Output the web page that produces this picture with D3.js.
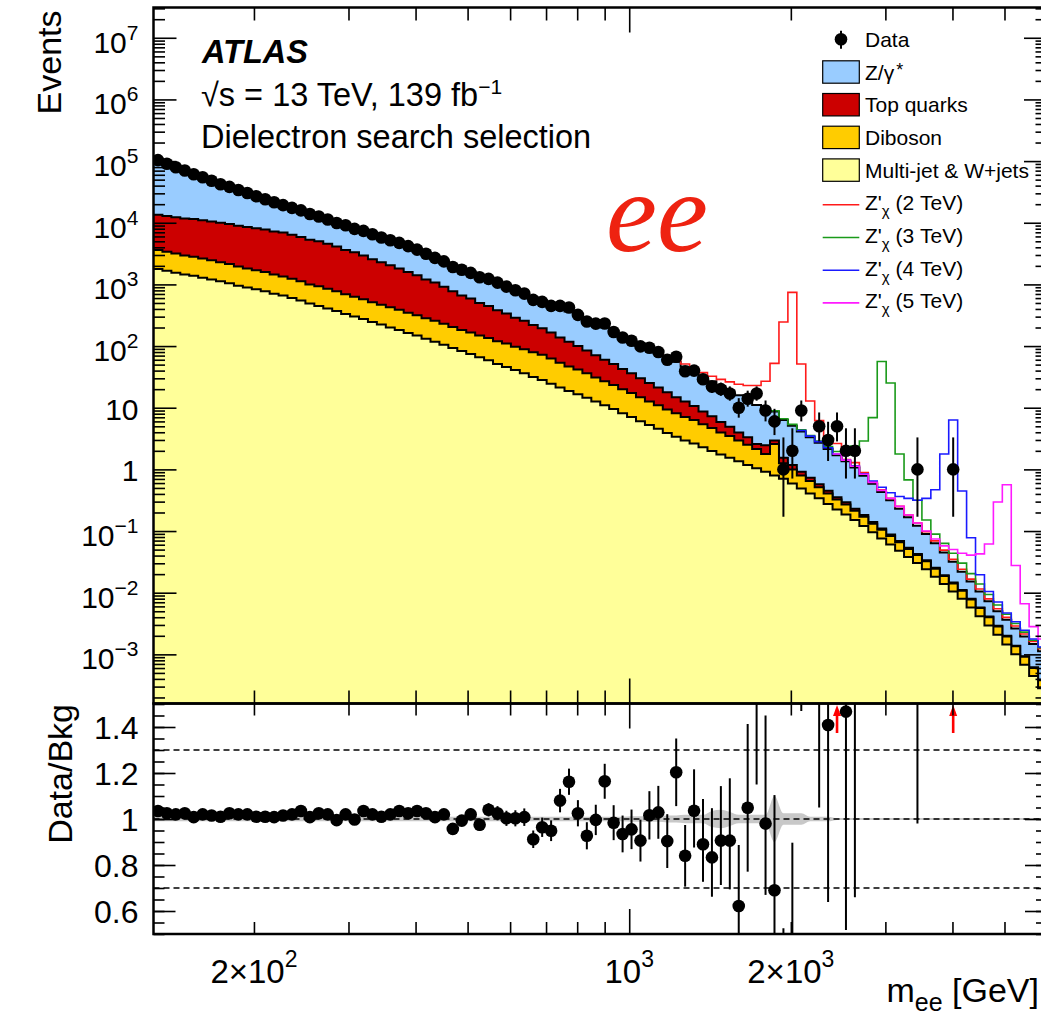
<!DOCTYPE html>
<html><head>
<meta charset="utf-8">
<title>Dielectron mass spectrum</title>
<script src="https://cdn.jsdelivr.net/npm/d3@7"></script>
<style>
body { margin: 0px; background: #fff; }
text { font-family: "Liberation Sans", Arial, Helvetica, sans-serif; fill: #000; }
</style>
</head>
<body>
<script>
// binning of the histogram (log-uniform in m_ee)
var nBins = 100, mLow = 130, mHigh = 6000;

// stacked histogram tops, log10(events) per bin
var zTopLog = [5.000,4.946,4.891,4.837,4.783,4.729,4.674,4.620,4.571,4.523,
  4.474,4.426,4.377,4.329,4.280,4.233,4.186,4.139,4.091,4.044,
  3.997,3.950,3.901,3.853,3.804,3.756,3.707,3.659,3.610,3.549,
  3.487,3.426,3.364,3.303,3.241,3.180,3.127,3.073,3.020,2.963,
  2.905,2.848,2.790,2.733,2.675,2.618,2.560,2.495,2.430,2.365,
  2.300,2.235,2.170,2.105,2.040,1.966,1.893,1.819,1.745,1.666,
  1.588,1.509,1.430,1.354,1.278,1.201,1.125,1.044,0.963,0.938,
  0.800,0.708,0.615,0.523,0.430,0.330,0.230,0.130,0.030,-0.103,
  -0.235,-0.368,-0.500,-0.638,-0.775,-0.913,-1.050,-1.200,-1.350,-1.500,
  -1.660,-1.820,-1.980,-2.140,-2.300,-2.440,-2.580,-2.710,-2.830,-2.950];
var topTopLog = [4.13,4.11,4.09,4.07,4.06,4.04,4.02,4.00,3.98,3.95,
  3.93,3.91,3.89,3.86,3.84,3.805,3.77,3.725,3.70,3.66,
  3.615,3.56,3.52,3.47,3.41,3.36,3.31,3.26,3.20,3.15,
  3.08,3.03,2.96,2.89,2.82,2.77,2.70,2.65,2.58,2.53,
  2.46,2.41,2.34,2.29,2.22,2.14,2.07,2.00,1.93,1.85,
  1.78,1.71,1.63,1.56,1.48,1.40,1.33,1.25,1.17,1.10,
  1.03,0.94,0.86,0.77,0.69,0.60,0.52,0.41,0.39,0.47,
  0.19,0.07,-0.04,-0.135,-0.24,-0.345,-0.45,-0.534,-0.637,-0.74,
  -0.855,-0.957,-1.058,-1.16,-1.272,-1.373,-1.475,-1.595,-1.716,-1.836,
  -1.957,-2.097,-2.238,-2.388,-2.538,-2.699,-2.859,-3.03,-3.21,-3.41];
var dibosonTopLog = [3.56,3.53,3.50,3.47,3.45,3.42,3.39,3.36,3.33,3.29,
  3.26,3.23,3.20,3.16,3.13,3.09,3.05,3.00,2.97,2.93,
  2.89,2.84,2.80,2.76,2.71,2.67,2.63,2.59,2.54,2.50,
  2.45,2.41,2.36,2.31,2.26,2.22,2.17,2.13,2.08,2.04,
  1.99,1.95,1.90,1.86,1.80,1.73,1.67,1.62,1.56,1.49,
  1.43,1.37,1.30,1.24,1.17,1.10,1.04,0.97,0.91,0.85,
  0.80,0.73,0.67,0.60,0.54,0.47,0.40,0.33,0.25,0.41,
  0.10,0.00,-0.10,-0.19,-0.29,-0.39,-0.49,-0.57,-0.67,-0.77,
  -0.88,-0.98,-1.08,-1.18,-1.29,-1.39,-1.49,-1.61,-1.73,-1.85,
  -1.97,-2.11,-2.25,-2.40,-2.55,-2.71,-2.87,-3.04,-3.22,-3.42];
var multijetTopLog = [3.25,3.22,3.19,3.16,3.14,3.11,3.08,3.05,3.02,2.98,
  2.95,2.92,2.89,2.85,2.82,2.78,2.74,2.69,2.65,2.61,
  2.57,2.52,2.48,2.44,2.39,2.35,2.30,2.26,2.21,2.17,
  2.12,2.07,2.02,1.97,1.92,1.87,1.82,1.77,1.71,1.66,
  1.61,1.56,1.50,1.45,1.39,1.33,1.27,1.22,1.16,1.10,
  1.04,0.98,0.91,0.85,0.78,0.72,0.66,0.59,0.53,0.47,
  0.42,0.36,0.30,0.24,0.19,0.13,0.07,0.02,-0.04,-0.10,
  -0.15,-0.23,-0.31,-0.39,-0.47,-0.56,-0.65,-0.73,-0.82,-0.92,
  -1.02,-1.12,-1.22,-1.32,-1.42,-1.52,-1.62,-1.74,-1.86,-1.98,
  -2.10,-2.24,-2.38,-2.53,-2.68,-2.84,-3.00,-3.17,-3.35,-3.55];

// Z' signals on top of the background, log10(events), starting at bin index
var z2Start = 56, z2Log = [1.90,1.84,1.78,1.71,1.64,1.57,1.51,1.46,1.42,1.38,1.36,1.36,1.43,1.72,2.39,2.87,1.71,1.11,0.79,0.50,0.42,0.16,0.11,
  -0.05,-0.20,-0.33,-0.47,-0.60,-0.74,-0.87,-1.01,-1.16,-1.31,-1.46,-1.62,-1.78,-1.94,-2.10,-2.26,-2.40,-2.54,-2.67,-2.79,-2.91];
var z3Start = 68, z3Log = [0.97,0.95,0.82,0.73,0.64,0.55,0.46,0.37,0.29,0.24,0.38,0.46,0.84,1.75,1.40,0.25,-0.17,-0.50,-0.82,-1.05,
  -1.20,-1.36,-1.52,-1.69,-1.86,-2.03,-2.20,-2.35,-2.50,-2.64,-2.77,-2.89];
var z4Start = 72, z4Log = [0.63,0.54,0.45,0.35,0.25,0.15,0.06,-0.07,-0.19,-0.29,-0.38,-0.44,-0.47,-0.50,-0.47,-0.33,0.25,0.80,-0.35,-1.11,
  -1.71,-1.98,-2.15,-2.33,-2.47,-2.61,-2.75,-2.88];
var z5Start = 76, z5Log = [0.25,0.15,0.05,-0.08,-0.21,-0.34,-0.47,-0.60,-0.74,-0.87,-1.00,-1.13,-1.24,-1.30,-1.36,-1.39,-1.37,-1.21,-0.53,-0.25,
  -1.56,-2.18,-2.55,-2.75];

// data: events per bin (0 = empty)
var dataCounts = [103500,90500,79400,70400,61200,54700,47900,42100,38200,34000,
  30400,26900,24100,21500,19300,17400,15900,13900,12600,11300,
  9880,9090,7950,7380,6500,5760,5200,4720,4180,3660,
  3150,2690,2360,1920,1730,1540,1310,1230,1070,921,
  806,710,562,521,449,448,422,320,250,231,
  232,169,138,122,99,94,80,60,67,39,
  40,29,22,20,17,10,14,17,9,6,
  1,2,9,0,5,3,5,2,2,0,
  0,0,0,0,0,1,0,0,0,1,
  0,0,0,0,0,0,0,0,0,0];
// error bar ends for the sparse bins, from bin 55 on
var dataTailStart = 55;
var dataTailLo = [84.5,71.1,52.3,58.9,32.8,33.7,23.6,17.4,15.6,13.0,6.9,10.4,13.0,6.0,3.6,0.17,0.71,6.0,null,2.84,
  1.37,2.84,0.71,0.71,null,null,null,null,null,null,0.17,null,null,null,0.17];
var dataTailHi = [104.2,89.9,68.7,75.2,45.3,46.4,35.4,27.6,25.5,22.2,14.3,18.9,22.2,13.1,9.6,3.30,4.64,13.1,null,8.38,
  5.92,8.38,4.64,4.64,null,null,null,null,null,null,3.30,null,null,null,3.30];

// Data/Bkg ratio and its errors
var ratioVal = [1.035,1.025,1.02,1.025,1.008,1.02,1.015,1.01,1.025,1.02,
  1.02,1.01,1.01,1.008,1.015,1.02,1.035,1.008,1.025,1.02,
  0.995,1.02,0.998,1.035,1.02,1.01,1.02,1.035,1.025,1.035,
  1.025,1.008,1.02,0.957,0.993,1.02,0.975,1.04,1.025,1.003,
  1.003,1.008,0.912,0.964,0.949,1.08,1.162,1.025,0.927,0.996,
  1.164,0.984,0.935,0.955,0.906,1.016,1.029,0.904,1.203,0.84,
  1.036,0.89,0.833,0.906,0.906,0.622,1.049,1.54,0.98,0.69,
  0.159,0.392,2.18,null,1.86,1.409,2.94,1.467,1.87,null,
  null,null,null,null,null,8.2,null,null,null,31.6,
  null,null,null,null,null,null,null,null,null,null];
var ratioErrDn = [.003,.003,.004,.004,.004,.004,.005,.005,.005,.005,
  .006,.006,.006,.007,.007,.008,.008,.009,.009,.009,
  .010,.011,.011,.012,.012,.013,.014,.015,.016,.017,
  .018,.019,.021,.022,.024,.026,.027,.029,.031,.033,
  .035,.038,.038,.042,.045,.051,.057,.057,.059,.066,
  .076,.076,.080,.086,.091,.105,.115,.117,.147,.134,
  .160,.163,.171,.193,.212,.190,.278,.390,.310,.270,
  .130,.250,.710,null,.810,.770,1.27,.950,1.21,null,
  null,null,null,null,null,7.22,null,null,null,26.1,
  null,null,null,null,null,null,null,null,null,null];
var ratioErrUp = [.003,.003,.004,.004,.004,.004,.005,.005,.005,.005,
  .006,.006,.006,.007,.007,.008,.008,.009,.009,.009,
  .010,.011,.011,.012,.012,.013,.014,.015,.016,.017,
  .018,.019,.021,.022,.024,.026,.027,.029,.031,.033,
  .035,.038,.038,.042,.045,.051,.057,.057,.059,.066,
  .076,.076,.080,.086,.091,.105,.115,.117,.147,.134,
  .180,.197,.214,.237,.271,.265,.364,.450,.470,.414,
  .366,.505,.990,null,1.25,1.35,2.00,1.90,2.40,null,
  null,null,null,null,null,20,null,null,null,70,
  null,null,null,null,null,null,null,null,null,null];
// points whose whole error bar is above the range
var arrowBins = [76, 89];
// relative background uncertainty (grey band)
var bkgUnc = [.01,.01,.01,.01,.01,.01,.01,.01,.01,.01,
  .01,.01,.01,.01,.01,.01,.01,.01,.01,.01,
  .01,.01,.01,.01,.01,.01,.01,.01,.01,.01,
  .01,.01,.01,.01,.01,.01,.01,.01,.01,.01,
  .01,.01,.01,.01,.01,.01,.01,.01,.01,.01,
  .01,.01,.01,.012,.012,.012,.012,.015,.015,.018,
  .018,.018,.035,.04,.03,.018,.018,.018,.018,.10,
  .025,.025,.025,.01,.01,.01,.004,.004,.004,.004,
  .004,.004,.004,.004,.004,.004,.004,.004,.004,.004,
  .004,.004,.004,.004,.004,.004,.004,.004,.004,.004];

// axis ticks and labels
var yMainExps = [7,6,5,4,3,2,1,0,-1,-2,-3];
var yRatioMajor = [0.6,0.8,1.0,1.2,1.4];
var yRatioLabels = ["0.6","0.8","1","1.2","1.4"];
var xTicksMinor = [200,300,400,500,600,700,800,900,2000,3000,4000,5000];
var xTicksMajor = [1000];
var xLabelValues = [200,1000,2000];
var xLabelBase = ["2\u00d710","10","2\u00d710"];
var xLabelExp = ["2","3","3"];
var refLines = [1.3,1.0,0.7];

// legend
var bkgNames = ["Z/\u03b3","Top quarks","Diboson","Multi-jet & W+jets"];
var bkgColors = ["#99ccff","#cc0000","#ffcc00","#ffff99"];
var sigMasses = ["2 TeV","3 TeV","4 TeV","5 TeV"];
var sigColors = ["#ff1a1a","#1a9a1a","#1a1aff","#ff1aff"];

// ---------------------------------------------------------------
var width = 1041, height = 1017;
var frameLeft = 153.5, frameRight = 1047, frameTop = 7.5, mainBottom = 703.5, ratioTop = 703.5, ratioBottom = 934;

function pow10(v){ return Math.pow(10, v); }

var edges = d3.range(nBins + 1).map(function(i){ return mLow * Math.pow(mHigh / mLow, i / nBins); });
var centers = d3.range(nBins).map(function(i){ return Math.sqrt(edges[i] * edges[i+1]); });

var x = d3.scaleLog().domain([mLow, mHigh]).range([frameLeft, frameRight]);
var y = d3.scaleLog().domain([pow10(-3.797), pow10(7.491)]).range([mainBottom, frameTop]);
var yr = d3.scaleLinear().domain([0.5, 1.5]).range([ratioBottom, 704]);

var svg = d3.select("body").append("svg")
    .attr("width", width).attr("height", height);
svg.append("rect").attr("width", width).attr("height", height).attr("fill", "#fff");

var defs = svg.append("defs");
defs.append("clipPath").attr("id", "clipMain").append("rect")
  .attr("x", frameLeft).attr("y", frameTop).attr("width", frameRight - frameLeft).attr("height", mainBottom - frameTop);
defs.append("clipPath").attr("id", "clipRatio").append("rect")
  .attr("x", frameLeft).attr("y", ratioTop).attr("width", frameRight - frameLeft).attr("height", ratioBottom - ratioTop);

function stepPoints(vals, start){
  var pts = vals.map(function(v, i){ return [edges[start + i], v]; });
  pts.push([edges[start + vals.length], vals[vals.length - 1]]);
  return pts;
}
var stepLine = d3.line().curve(d3.curveStepAfter)
  .x(function(d){ return x(d[0]); }).y(function(d){ return y(d[1]); });
var stepArea = d3.area().curve(d3.curveStepAfter)
  .x(function(d){ return x(d[0]); }).y0(mainBottom + 10).y1(function(d){ return y(d[1]); });

// ---------------- main panel ----------------
var gMain = svg.append("g").attr("clip-path", "url(#clipMain)");

var stackTops = [zTopLog, topTopLog, dibosonTopLog, multijetTopLog];
stackTops.forEach(function(arr, k){
  var pts = stepPoints(arr.map(pow10), 0);
  gMain.append("path").attr("d", stepArea(pts)).attr("fill", bkgColors[k]);
  gMain.append("path").attr("d", stepLine(pts)).attr("fill", "none")
    .attr("stroke", "#000").attr("stroke-width", 2);
});

var signals = [[z2Start, z2Log], [z3Start, z3Log], [z4Start, z4Log], [z5Start, z5Log]];
signals.forEach(function(s, k){
  gMain.append("path").attr("d", stepLine(stepPoints(s[1].map(pow10), s[0])))
    .attr("fill", "none").attr("stroke", sigColors[k]).attr("stroke-width", 1.6);
});

// data error bars (sparse bins) and markers
dataTailLo.forEach(function(lo, j){
  var i = dataTailStart + j;
  if (lo == null) return;
  gMain.append("line").attr("x1", x(centers[i])).attr("x2", x(centers[i]))
    .attr("y1", y(lo)).attr("y2", y(dataTailHi[j]))
    .attr("stroke", "#000").attr("stroke-width", 2);
});
gMain.selectAll("circle.data").data(d3.range(nBins).filter(function(i){ return dataCounts[i] > 0; }))
  .enter().append("circle").attr("class", "data")
  .attr("cx", function(i){ return x(centers[i]); })
  .attr("cy", function(i){ return y(dataCounts[i]); })
  .attr("r", 6.3).attr("fill", "#000");

// ---------------- ratio panel ----------------
var gRatio = svg.append("g").attr("clip-path", "url(#clipRatio)");

var bandPts = d3.range(nBins).map(function(i){ return [centers[i], bkgUnc[i]]; });
bandPts.unshift([mLow, bkgUnc[0]]);
bandPts.push([mHigh, bkgUnc[nBins - 1]]);
gRatio.append("path")
  .attr("d", d3.area().curve(d3.curveMonotoneX)
    .x(function(d){ return x(d[0]); })
    .y0(function(d){ return yr(1 - d[1]); })
    .y1(function(d){ return yr(1 + d[1]); })(bandPts))
  .attr("fill", "#c8c8c8");

refLines.forEach(function(v){
  gRatio.append("line").attr("x1", frameLeft).attr("x2", frameRight)
    .attr("y1", yr(v)).attr("y2", yr(v))
    .attr("stroke", "#000").attr("stroke-width", 1.3).attr("stroke-dasharray", "6,4");
});

var ratioBins = d3.range(nBins).filter(function(i){
  return ratioVal[i] != null && arrowBins.indexOf(i) < 0;
});
ratioBins.forEach(function(i){
  gRatio.append("line").attr("x1", x(centers[i])).attr("x2", x(centers[i]))
    .attr("y1", yr(ratioVal[i] - ratioErrDn[i])).attr("y2", yr(ratioVal[i] + ratioErrUp[i]))
    .attr("stroke", "#000").attr("stroke-width", 2);
});
gRatio.selectAll("circle.ratio").data(ratioBins).enter().append("circle")
  .attr("class", "ratio")
  .attr("cx", function(i){ return x(centers[i]); })
  .attr("cy", function(i){ return yr(ratioVal[i]); })
  .attr("r", 6.3).attr("fill", "#000");

arrowBins.forEach(function(i){
  var cx = x(centers[i]);
  gRatio.append("line").attr("x1", cx).attr("x2", cx).attr("y1", 733).attr("y2", 714)
    .attr("stroke", "#ff0000").attr("stroke-width", 2.6);
  gRatio.append("path")
    .attr("d", "M" + (cx - 4) + ",716L" + (cx + 4) + ",716L" + cx + ",705Z")
    .attr("fill", "#ff0000");
});

// ---------------- frames and ticks ----------------
function tickAxis(axisFn, scale, values, size, tx, ty){
  var g = svg.append("g").attr("transform", "translate(" + tx + "," + ty + ")")
    .call(axisFn(scale).tickValues(values).tickSize(size).tickFormat(""));
  g.select(".domain").remove();
  g.selectAll(".tick text").remove();
  g.selectAll(".tick line").attr("stroke", "#000").attr("stroke-width", 1.6);
  return g;
}

var yMinor = [];
for (var e = -4; e <= 7; e++) {
  for (var m = 2; m <= 9; m++) {
    var v = m * pow10(e);
    if (v > y.domain()[0] && v < y.domain()[1]) yMinor.push(v);
  }
}
var yMajor = yMainExps.map(pow10);
var rMinor = d3.range(0.5, 1.5001, 0.05);

// main panel
tickAxis(d3.axisLeft, y, yMajor, -23, frameLeft, 0);
tickAxis(d3.axisLeft, y, yMinor, -11.5, frameLeft, 0);
tickAxis(d3.axisRight, y, yMajor, -23, frameRight, 0);
tickAxis(d3.axisRight, y, yMinor, -11.5, frameRight, 0);
tickAxis(d3.axisBottom, x, xTicksMinor, -13, 0, mainBottom);
tickAxis(d3.axisBottom, x, xTicksMajor, -25, 0, mainBottom);
tickAxis(d3.axisTop, x, xTicksMinor, -13, 0, frameTop);
tickAxis(d3.axisTop, x, xTicksMajor, -25, 0, frameTop);
// ratio panel
tickAxis(d3.axisLeft, yr, yRatioMajor, -22, frameLeft, 0);
tickAxis(d3.axisLeft, yr, rMinor, -11, frameLeft, 0);
tickAxis(d3.axisRight, yr, yRatioMajor, -22, frameRight, 0);
tickAxis(d3.axisRight, yr, rMinor, -11, frameRight, 0);
tickAxis(d3.axisTop, x, xTicksMinor, -12, 0, ratioTop);
tickAxis(d3.axisTop, x, xTicksMajor, -25, 0, ratioTop);
tickAxis(d3.axisBottom, x, xTicksMinor, -12, 0, ratioBottom);
tickAxis(d3.axisBottom, x, xTicksMajor, -25, 0, ratioBottom);

svg.append("rect").attr("x", frameLeft).attr("y", frameTop).attr("width", frameRight - frameLeft).attr("height", mainBottom - frameTop)
  .attr("fill", "none").attr("stroke", "#000").attr("stroke-width", 2.5);
svg.append("rect").attr("x", frameLeft).attr("y", ratioTop).attr("width", frameRight - frameLeft).attr("height", ratioBottom - ratioTop)
  .attr("fill", "none").attr("stroke", "#000").attr("stroke-width", 2.5);

// ---------------- tick labels ----------------
yMainExps.forEach(function(e){
  var plain = (e === 0 || e === 1);
  var t = svg.append("text").attr("x", frameLeft - 15).attr("y", y(pow10(e)) + (plain ? 12 : 15))
    .attr("text-anchor", "end").attr("font-size", 30);
  if (e === 0) t.text("1");
  else if (e === 1) t.text("10");
  else {
    t.append("tspan").text("10");
    t.append("tspan").attr("dy", -13).attr("font-size", 21).text(e < 0 ? "\u2212" + (-e) : String(e));
  }
});
yRatioMajor.forEach(function(v, k){
  svg.append("text").attr("x", frameLeft - 15).attr("y", yr(v) + 11.5)
    .attr("text-anchor", "end").attr("font-size", 32).text(yRatioLabels[k]);
});
xLabelValues.forEach(function(v, k){
  var t = svg.append("text").attr("x", x(v)).attr("y", 983)
    .attr("text-anchor", "middle").attr("font-size", 33);
  t.append("tspan").text(xLabelBase[k]);
  t.append("tspan").attr("dy", -16).attr("font-size", 23).text(xLabelExp[k]);
});

// axis titles (right-aligned to the visible edge)
var xt = svg.append("text").attr("x", 1039).attr("y", 1002).attr("font-size", 34)
  .attr("text-anchor", "end");
xt.append("tspan").text("m");
xt.append("tspan").attr("dy", 9).attr("font-size", 25).text("ee");
xt.append("tspan").attr("dy", -9).text(" [GeV]");

svg.append("text").attr("transform", "translate(61,10.5) rotate(-90)")
  .attr("text-anchor", "end").attr("font-size", 34).text("Events");
svg.append("text").attr("transform", "translate(72,704) rotate(-90)")
  .attr("text-anchor", "end").attr("font-size", 34).text("Data/Bkg");

// labels inside the plot
svg.append("text").attr("x", 202).attr("y", 63).attr("font-size", 32.5)
  .attr("font-weight", "bold").attr("font-style", "italic").text("ATLAS");
var lumi = svg.append("text").attr("x", 201).attr("y", 106).attr("font-size", 32.5);
lumi.append("tspan").text("\u221as = 13 TeV, 139 fb");
lumi.append("tspan").attr("dy", -12).attr("font-size", 21).text("\u22121");
svg.append("text").attr("x", 201).attr("y", 148).attr("font-size", 32.5).text("Dielectron search selection");
svg.append("text").attr("x", 606).attr("y", 250.5).attr("font-size", 115)
  .attr("font-style", "italic").style("font-family", "'Liberation Serif', 'Times New Roman', serif")
  .style("fill", "#ee2211").text("ee");

// ---------------- legend ----------------
var legX = 822.7, legW = 36.6, legTextX = 865, rowY0 = 39.3, rowDy = 32.7;
var lg = svg.append("g");
// data
lg.append("line").attr("x1", legX + legW / 2).attr("x2", legX + legW / 2)
  .attr("y1", rowY0 - 8.5).attr("y2", rowY0 + 9.5).attr("stroke", "#000").attr("stroke-width", 2);
lg.append("circle").attr("cx", legX + legW / 2).attr("cy", rowY0).attr("r", 6.3).attr("fill", "#000");
lg.append("text").attr("x", legTextX).attr("y", rowY0 + 7.5).attr("font-size", 21).text("Data");
// backgrounds
bkgNames.forEach(function(name, k){
  var ry = rowY0 + rowDy * (k + 1);
  lg.append("rect").attr("x", legX).attr("y", ry - 11.2).attr("width", legW).attr("height", 22.4)
    .attr("fill", bkgColors[k]).attr("stroke", "#000").attr("stroke-width", 1.2);
  var t = lg.append("text").attr("x", legTextX).attr("y", ry + 7.5).attr("font-size", 21);
  t.append("tspan").text(name);
  if (k === 0) t.append("tspan").attr("dx", 2).attr("dy", -4).attr("font-size", 18).text("*");
});
// signals
sigMasses.forEach(function(mass, k){
  var ry = rowY0 + rowDy * (k + 5);
  lg.append("line").attr("x1", legX).attr("x2", legX + legW).attr("y1", ry + 2).attr("y2", ry + 2)
    .attr("stroke", sigColors[k]).attr("stroke-width", 1.6);
  var t = lg.append("text").attr("x", legTextX).attr("y", ry + 7.5).attr("font-size", 21);
  t.append("tspan").text("Z'");
  t.append("tspan").attr("dy", 6).attr("font-size", 15).text("\u03c7");
  t.append("tspan").attr("dy", -6).text(" (" + mass + ")");
});
</script>
</body></html>
